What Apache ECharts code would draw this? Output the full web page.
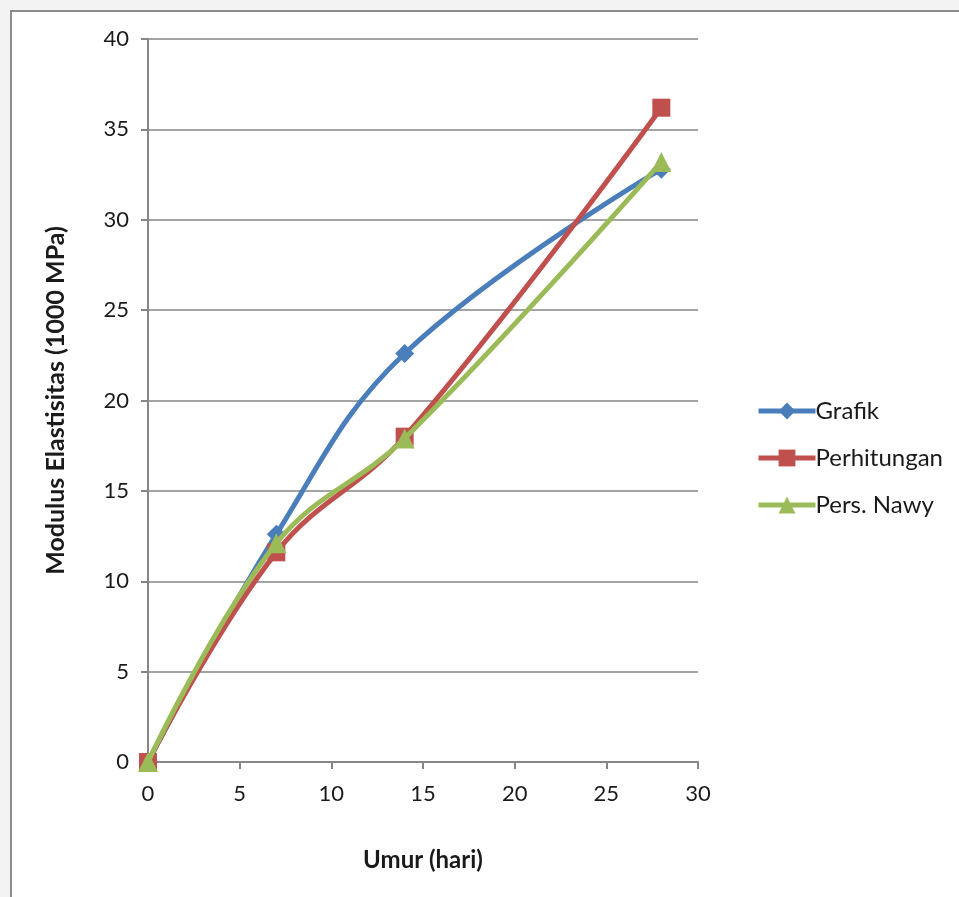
<!DOCTYPE html>
<html>
<head>
<meta charset="utf-8">
<script src="https://cdn.jsdelivr.net/npm/echarts@6/dist/echarts.min.js"></script>
<style>
  html, body { margin: 0; padding: 0; background: #f3f3f3; }
  #chart { width: 959px; height: 897px; }
</style>
</head>
<body>
<div id="chart"></div>
<script>
// Age of the concrete (days) and modulus of elasticity (x1000 MPa)
const umur = [0, 7, 14, 28];
const grafik = [0, 12.6, 22.6, 32.8];
const perhitungan = [0, 11.6, 18.0, 36.2];
const persNawy = [0, 12.1, 17.9, 33.2];

const seriesNames = ['Grafik', 'Perhitungan', 'Pers. Nawy'];
const seriesColors = ['#4a7ebb', '#c0504d', '#9bbb59'];

const FONT = 'Lato, "Open Sans", sans-serif';
const axisGray = '#868686';

function pairs(vals) {
  return umur.map((x, i) => [x, vals[i]]);
}

const chart = echarts.init(document.getElementById('chart'), null, { renderer: 'canvas' });

chart.setOption({
  backgroundColor: 'transparent',
  animation: false,
  graphic: [
    {
      type: 'rect',
      left: 10, top: 10,
      shape: { width: 960, height: 900 },
      style: { fill: '#ffffff', stroke: '#8c8c8c', lineWidth: 2 },
      z: -10
    }
  ],
  grid: { left: 148, right: 261, top: 39, bottom: 135, containLabel: false },
  legend: {
    orient: 'vertical',
    left: 751,
    top: 394,
    itemWidth: 57,
    itemHeight: 21,
    itemGap: 23,
    itemStyle: { borderWidth: 0 },
    lineStyle: { width: 5 },
    textStyle: { fontFamily: FONT, fontSize: 24, color: '#1a1a1a', padding: [0, 0, 0, -5] },
    data: seriesNames
  },
  xAxis: {
    type: 'value',
    min: 0, max: 30, interval: 5,
    name: 'Umur (hari)',
    nameLocation: 'middle',
    nameGap: 86,
    nameTextStyle: { fontFamily: FONT, fontSize: 24, fontWeight: 'bold', color: '#1a1a1a' },
    axisLine: { show: true, onZero: false, lineStyle: { color: axisGray, width: 2 } },
    axisTick: { show: true, length: 7, lineStyle: { color: axisGray, width: 2 } },
    axisLabel: { fontFamily: FONT, fontSize: 22, color: '#1a1a1a', margin: 21 },
    splitLine: { show: false }
  },
  yAxis: {
    type: 'value',
    min: 0, max: 40, interval: 5,
    name: 'Modulus Elastisitas (1000 MPa)',
    nameLocation: 'middle',
    nameGap: 80,
    nameRotate: 90,
    nameTextStyle: { fontFamily: FONT, fontSize: 25, fontWeight: 'bold', color: '#1a1a1a' },
    axisLine: { show: true, lineStyle: { color: axisGray, width: 2 } },
    axisTick: { show: true, length: 7, lineStyle: { color: axisGray, width: 2 } },
    axisLabel: { fontFamily: FONT, fontSize: 22, color: '#1a1a1a', margin: 19 },
    splitLine: { show: true, lineStyle: { color: axisGray, width: 1.5 } }
  },
  series: [
    {
      name: seriesNames[0], type: 'line', smooth: 0.4,
      data: pairs(grafik),
      symbol: 'diamond', symbolSize: 19,
      lineStyle: { width: 5, color: seriesColors[0] },
      itemStyle: { color: seriesColors[0] },
      z: 2
    },
    {
      name: seriesNames[1], type: 'line', smooth: 0.4,
      data: pairs(perhitungan),
      symbol: 'rect', symbolSize: 18,
      lineStyle: { width: 5, color: seriesColors[1] },
      itemStyle: { color: seriesColors[1] },
      z: 3
    },
    {
      name: seriesNames[2], type: 'line', smooth: 0.4,
      data: pairs(persNawy),
      symbol: 'triangle', symbolSize: 20,
      lineStyle: { width: 5, color: seriesColors[2] },
      itemStyle: { color: seriesColors[2] },
      z: 4
    }
  ]
});
</script>
</body>
</html>
